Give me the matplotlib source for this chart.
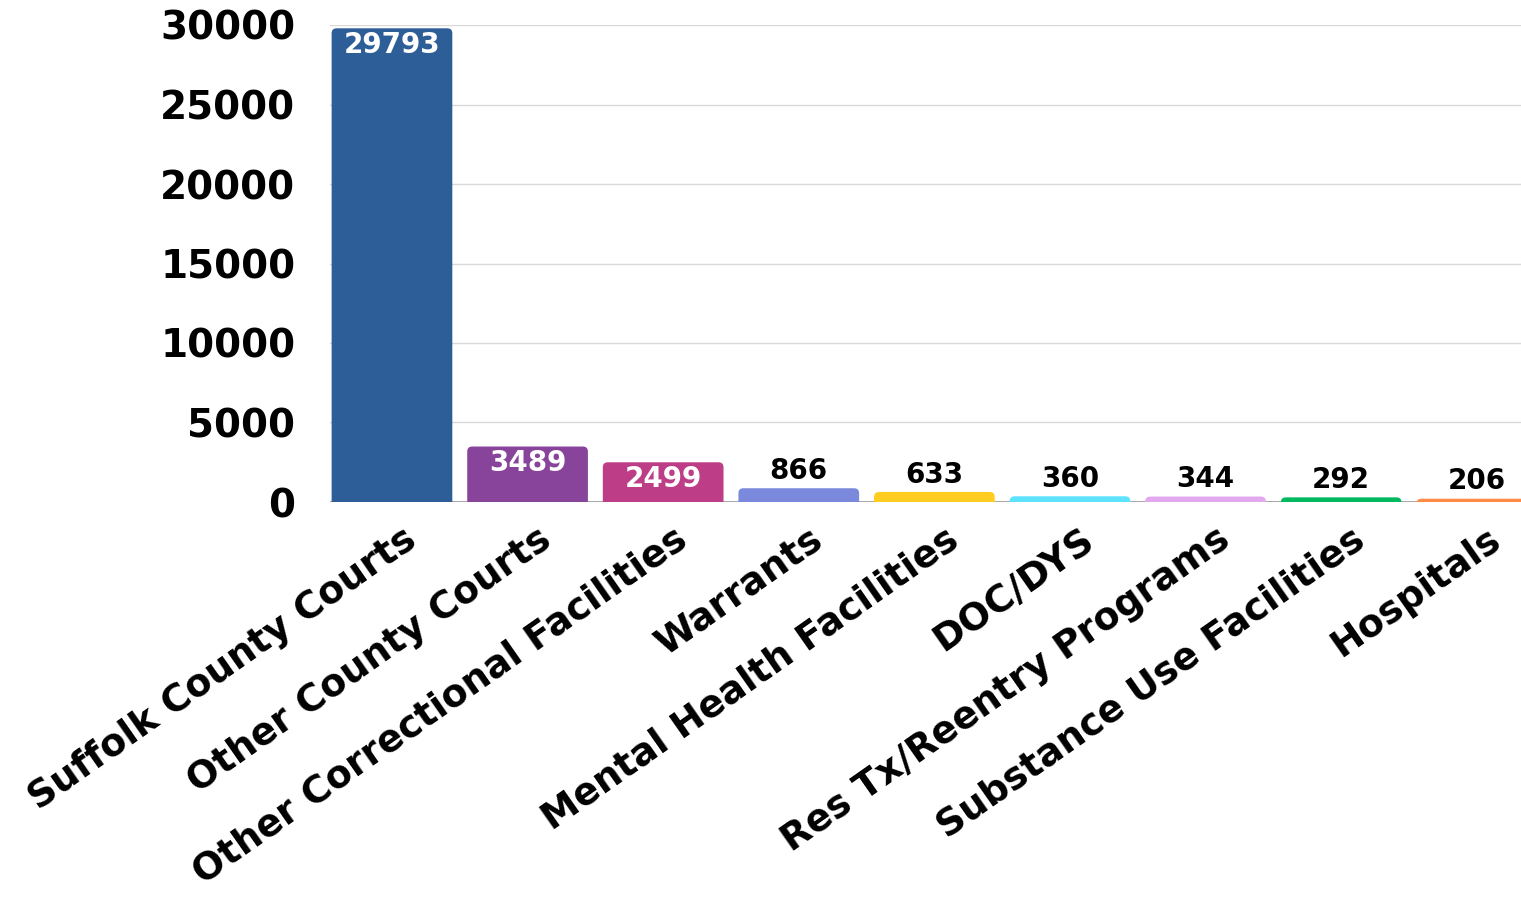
import numpy as np
import matplotlib
matplotlib.use("Agg")
import matplotlib.pyplot as plt
import matplotlib.transforms as mtransforms
from matplotlib.patches import FancyBboxPatch

# ------------------------------------------------------------------
# Data
# ------------------------------------------------------------------
categories = ["Suffolk County Courts", "Other County Courts",
              "Other Correctional Facilities", "Warrants",
              "Mental Health Facilities", "DOC/DYS",
              "Res Tx/Reentry Programs", "Substance Use Facilities",
              "Hospitals"]
counts = [29793, 3489, 2499, 866, 633, 360, 344, 292, 206]
bar_colors = ["#2e5e97", "#87449a", "#bd3d86", "#7a89dc", "#ffcd1f",
              "#5de2ff", "#e2a9ef", "#00b95e", "#ff8b47"]
y_ticks = [0, 5000, 10000, 15000, 20000, 25000, 30000]

plt.rcParams['font.family'] = ['DejaVu Sans']
plt.rcParams['font.weight'] = 'bold'

fig = plt.figure(figsize=(15.21, 8.99), dpi=100)
ax = fig.add_axes([330 / 1521, 1 - 502 / 899, 1 - 330 / 1521, (502 - 25) / 899])

x = np.arange(len(categories))
bar_w = 0.89
ax.set_xlim(-0.457, -0.457 + 1191 / 135.6)
ax.set_ylim(0, 30000)

# rounded bars (radius ~5px), bottom pushed below zero so only top corners show
px_x = 1 / 135.6
px_y = 30000 / 477
rad = 5 * px_x
for xi, v, c in zip(x, counts, bar_colors):
    box = FancyBboxPatch((xi - bar_w / 2, -8 * px_y), bar_w, v + 8 * px_y,
                         boxstyle=f"round,pad=0,rounding_size={rad}",
                         mutation_aspect=px_y / px_x,
                         facecolor=c, edgecolor="none", zorder=3)
    ax.add_patch(box)

# value labels: inside for the tall bars, above for the short ones
for xi, v in zip(x, counts):
    if v > 2000:
        ax.annotate(f"{v}", (xi, v), xytext=(0, -12), textcoords="offset points",
                    ha="center", va="center", color="white",
                    fontsize=20, fontweight="bold", zorder=4)
    else:
        ax.annotate(f"{v}", (xi, v), xytext=(0, 12.5), textcoords="offset points",
                    ha="center", va="center", color="black",
                    fontsize=20, fontweight="bold", zorder=4)

# axes styling
for s in ax.spines.values():
    s.set_visible(False)
ax.set_yticks(y_ticks)
ax.set_yticklabels([str(t) for t in y_ticks], fontsize=28, fontweight="bold")
ax.tick_params(axis="y", length=0, pad=25)
ax.grid(axis="y", color="#d9d9d9", linewidth=1, zorder=0)
ax.axhline(0, color="#999999", linewidth=1.2, zorder=2)

ax.set_xticks(x)
ax.set_xticklabels(categories, rotation=35, ha="right", va="top",
                   rotation_mode="anchor", fontsize=27, fontweight="bold")
ax.tick_params(axis="x", length=0, pad=14)
offset = mtransforms.ScaledTranslation(10 / 100, 0, fig.dpi_scale_trans)
for lbl in ax.get_xticklabels():
    lbl.set_transform(lbl.get_transform() + offset)

fig.savefig("out.png", dpi=100)
